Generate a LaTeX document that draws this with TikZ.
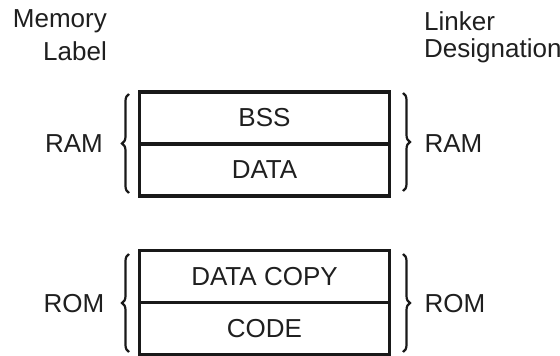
\documentclass[tikz,border=0pt]{standalone}
\usepackage{fontspec}
\setmainfont{Liberation Sans}
\usetikzlibrary{decorations.pathreplacing}
\begin{document}
\begin{tikzpicture}[x=1pt,y=-1pt,
  txt/.style={font=\fontsize{26}{30}\selectfont, inner sep=0pt, text=black!88},
  cell/.style={draw=black!90, line width=3.2pt, minimum width=250pt, minimum height=52pt,
    inner sep=0pt, font=\fontsize{26}{30}\selectfont, text=black!88},
  curly/.style={decorate, decoration={brace, amplitude=7pt}, line width=2.2pt, draw=black!90}]
\useasboundingbox (0,0) rectangle (560,356);

% column headings
\node[txt, anchor=east] (memhead) at (107,21) {Memory};
\node[txt, anchor=east] (labhead) at (107,51) {Label};
\node[txt, anchor=west] (linkhead) at (424,21) {Linker};
\node[txt, anchor=west] (desghead) at (424,51) {Designation};

% RAM block
\node[cell] (bss) at (264.5,118) {BSS};
\node[cell] (data) at (264.5,170) {DATA};

% ROM block
\node[cell] (copy) at (264.5,276.5) {DATA COPY};
\node[cell] (code) at (264.5,328.5) {CODE};

% braces and labels
\coordinate (lramb) at (129,193);
\coordinate (lramt) at (129,94);
\coordinate (rramt) at (403,93);
\coordinate (rramb) at (403,191);
\draw[curly] (lramb) -- (lramt);
\draw[curly] (rramt) -- (rramb);
\node[txt] (lram) at (74,144) {RAM};
\node[txt] (rram) at (453.5,144) {RAM};

\coordinate (lromb) at (129,352);
\coordinate (lromt) at (129,254);
\coordinate (rromt) at (403,254);
\coordinate (rromb) at (403,352);
\draw[curly] (lromb) -- (lromt);
\draw[curly] (rromt) -- (rromb);
\node[txt] (lrom) at (74,304) {ROM};
\node[txt] (rrom) at (455,304) {ROM};
\end{tikzpicture}
\end{document}
